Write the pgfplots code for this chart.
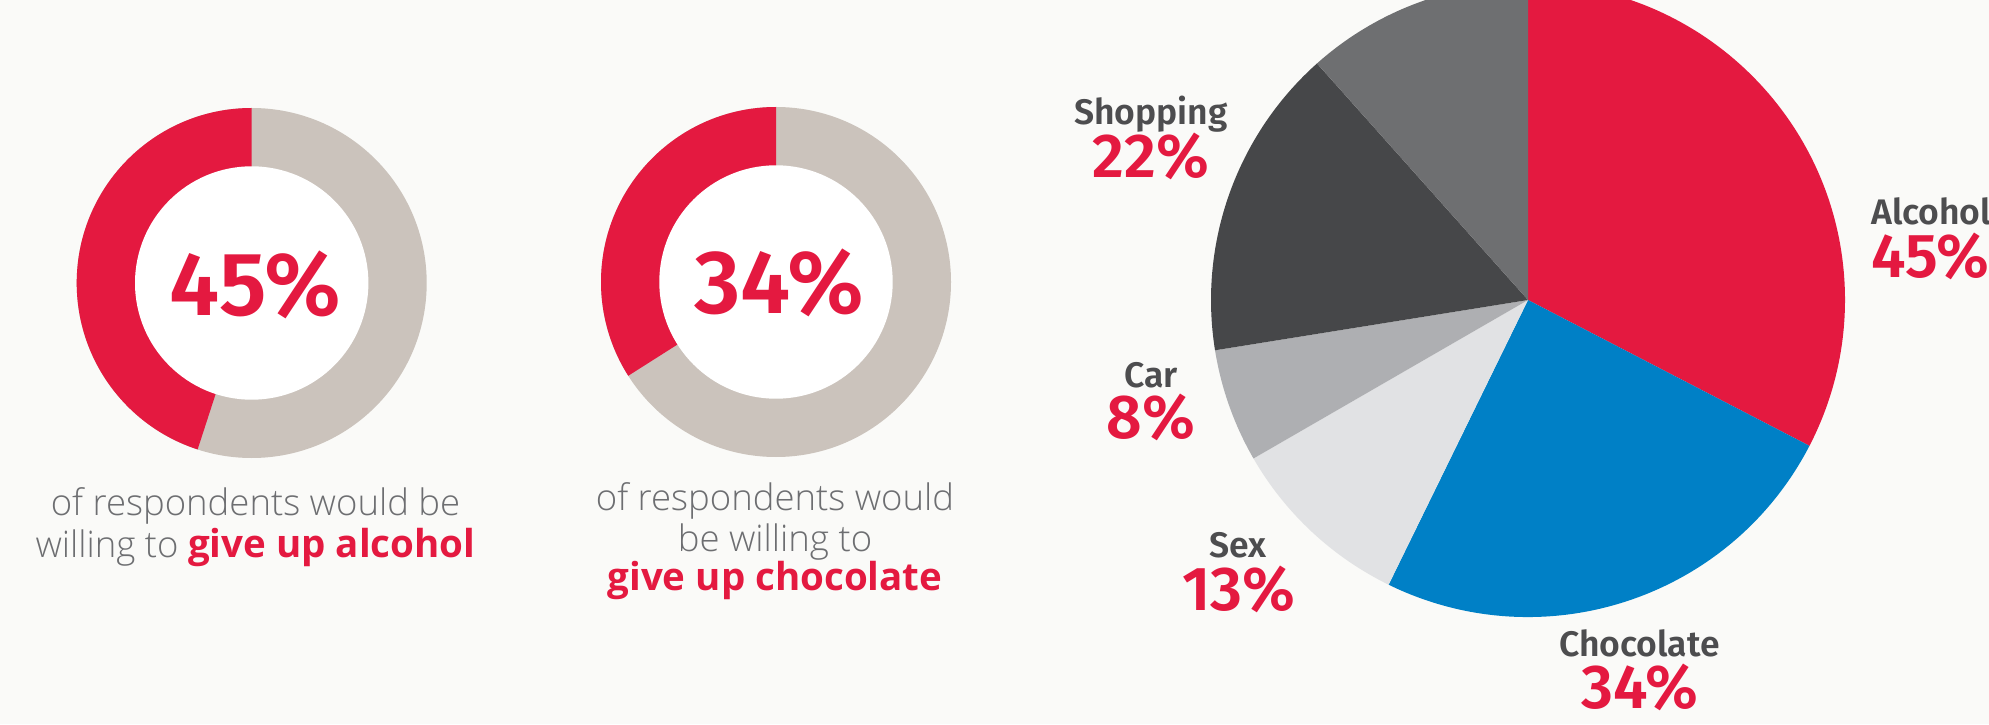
\documentclass[border=0pt]{standalone}
\usepackage{fontspec}
\usepackage{pgfplots}
\usepackage{pgfplotstable}
\pgfplotsset{compat=1.18}

\setmainfont{Fira Sans}
\IfFontExistsTF{Fira Sans SemiBold}{\newfontfamily\labelfont{Fira Sans SemiBold}}{\newfontfamily\labelfont{Fira Sans Bold}}
\IfFontExistsTF{Open Sans Light}{\newfontfamily\bodyfont{Open Sans Light}}{\newfontfamily\bodyfont{Open Sans}}
\IfFontExistsTF{Open Sans Bold}{\newfontfamily\bodybold{Open Sans Bold}}{\newfontfamily\bodybold{Open Sans}[FakeBold=2]}

\definecolor{bg}{HTML}{FAFAF8}
\definecolor{cRed}{HTML}{E41940}
\definecolor{cBlue}{HTML}{0080C6}
\definecolor{cRing}{HTML}{CBC3BC}
\definecolor{cLight}{HTML}{E1E2E4}
\definecolor{cMid}{HTML}{AEAFB2}
\definecolor{cDark}{HTML}{464749}
\definecolor{cGray}{HTML}{6E6F71}
\definecolor{cBody}{HTML}{6D6E71}
\definecolor{cLabel}{HTML}{4D4D4F}

\pgfplotstableread{
label value
Alcohol 45
Chocolate 34
Sex 13
Car 8
Shopping 22
Other 16
}\piedata

\begin{document}
\begin{tikzpicture}
% donut values
\def\dA{45}
\def\dB{34}
% pie angles from table values
\pgfplotstablegetelem{0}{value}\of\piedata \let\vA\pgfplotsretval
\pgfplotstablegetelem{1}{value}\of\piedata \let\vB\pgfplotsretval
\pgfplotstablegetelem{2}{value}\of\piedata \let\vC\pgfplotsretval
\pgfplotstablegetelem{3}{value}\of\piedata \let\vD\pgfplotsretval
\pgfplotstablegetelem{4}{value}\of\piedata \let\vE\pgfplotsretval
\pgfplotstablegetelem{5}{value}\of\piedata \let\vF\pgfplotsretval
\pgfmathsetmacro\tot{\vA+\vB+\vC+\vD+\vE+\vF}
\pgfmathsetmacro\aA{90-360*\vA/\tot}
\pgfmathsetmacro\aB{\aA-360*\vB/\tot}
\pgfmathsetmacro\aC{\aB-360*\vC/\tot}
\pgfmathsetmacro\aD{\aC-360*\vD/\tot}
\pgfmathsetmacro\aE{\aD-360*\vE/\tot}
\pgfmathsetmacro\aF{\aE-360*\vF/\tot}
\begin{axis}[x=1pt, y=1pt, xmin=0, xmax=1989, ymin=0, ymax=724,
  hide axis, scale only axis, clip=false, at={(0,0)}, anchor=south west]
\fill[bg] (axis cs:0,0) rectangle (axis cs:1989,724);
% donut 1
\fill[cRing] (axis cs:251.7,441) circle[radius=175pt];
\fill[cRed] (axis cs:251.7,441) -- ++(90:175pt) arc[start angle=90, end angle={90+3.6*\dA}, radius=175pt] -- cycle;
\fill[white] (axis cs:251.7,441) circle[radius=116.7pt];
% donut 2
\fill[cRing] (axis cs:776,442) circle[radius=175pt];
\fill[cRed] (axis cs:776,442) -- ++(90:175pt) arc[start angle=90, end angle={90+3.6*\dB}, radius=175pt] -- cycle;
\fill[white] (axis cs:776,442) circle[radius=116.7pt];
% pie
\fill[cRed]   (axis cs:1528,424) -- ++(90:317pt)  arc[start angle=90,  end angle=\aA, radius=317pt] -- cycle;
\fill[cBlue]  (axis cs:1528,424) -- ++(\aA:317pt) arc[start angle=\aA, end angle=\aB, radius=317pt] -- cycle;
\fill[cLight] (axis cs:1528,424) -- ++(\aB:317pt) arc[start angle=\aB, end angle=\aC, radius=317pt] -- cycle;
\fill[cMid]   (axis cs:1528,424) -- ++(\aC:317pt) arc[start angle=\aC, end angle=\aD, radius=317pt] -- cycle;
\fill[cDark]  (axis cs:1528,424) -- ++(\aD:317pt) arc[start angle=\aD, end angle=\aE, radius=317pt] -- cycle;
\fill[cGray]  (axis cs:1528,424) -- ++(\aE:317pt) arc[start angle=\aE, end angle=\aF, radius=317pt] -- cycle;
% donut numbers
\node[anchor=base, inner sep=0, text=cRed, font={\labelfont\fontsize{90}{90}\selectfont}] at (axis cs:255.5,408.5) {45\%};
\node[anchor=base, inner sep=0, text=cRed, font={\labelfont\fontsize{90}{90}\selectfont}] at (axis cs:779,410) {34\%};
% donut captions
\node[anchor=base, inner sep=0, text=cBody, font={\bodyfont\fontsize{36.5}{40}\selectfont}] at (axis cs:255.5,208.3) {of respondents would be};
\node[anchor=base, inner sep=0, text=cBody, font={\bodyfont\fontsize{36.5}{40}\selectfont}] at (axis cs:255.5,166.7) {willing to {\bodybold\fontsize{38.5}{40}\selectfont\color{cRed}give up alcohol}};
\node[anchor=base, inner sep=0, text=cBody, font={\bodyfont\fontsize{36.5}{40}\selectfont}] at (axis cs:775,213.3) {of respondents would};
\node[anchor=base, inner sep=0, text=cBody, font={\bodyfont\fontsize{36.5}{40}\selectfont}] at (axis cs:775,172.3) {be willing to};
\node[anchor=base, inner sep=0, text=cRed, font={\bodybold\fontsize{38.5}{40}\selectfont}] at (axis cs:775,134) {give up chocolate};
% pie labels
\node[anchor=base, inner sep=0, text=cLabel, font={\labelfont\fontsize{35.5}{36}\selectfont}] at (axis cs:1151,599) {Shopping};
\node[anchor=base, inner sep=0, text=cRed, font={\labelfont\fontsize{62}{62}\selectfont}] at (axis cs:1151,546) {22\%};
\node[anchor=base, inner sep=0, text=cLabel, font={\labelfont\fontsize{35.5}{36}\selectfont}] at (axis cs:1151,337) {Car};
\node[anchor=base, inner sep=0, text=cRed, font={\labelfont\fontsize{62}{62}\selectfont}] at (axis cs:1151,286) {8\%};
\node[anchor=base, inner sep=0, text=cLabel, font={\labelfont\fontsize{35.5}{36}\selectfont}] at (axis cs:1238,166.3) {Sex};
\node[anchor=base, inner sep=0, text=cRed, font={\labelfont\fontsize{62}{62}\selectfont}] at (axis cs:1238.5,114) {13\%};
\node[anchor=base, inner sep=0, text=cLabel, font={\labelfont\fontsize{35.5}{36}\selectfont}] at (axis cs:1639.5,67.5) {Chocolate};
\node[anchor=base, inner sep=0, text=cRed, font={\labelfont\fontsize{62}{62}\selectfont}] at (axis cs:1639.5,16) {34\%};
\node[anchor=base west, inner sep=0, text=cLabel, font={\labelfont\fontsize{35.5}{36}\selectfont}] at (axis cs:1871,499) {Alcohol};
\node[anchor=base west, inner sep=0, text=cRed, font={\labelfont\fontsize{62}{62}\selectfont}] at (axis cs:1871,446) {45\%};
\end{axis}
\pgfresetboundingbox
\useasboundingbox (0,0) rectangle (1989pt,724pt);
\end{tikzpicture}
\end{document}
